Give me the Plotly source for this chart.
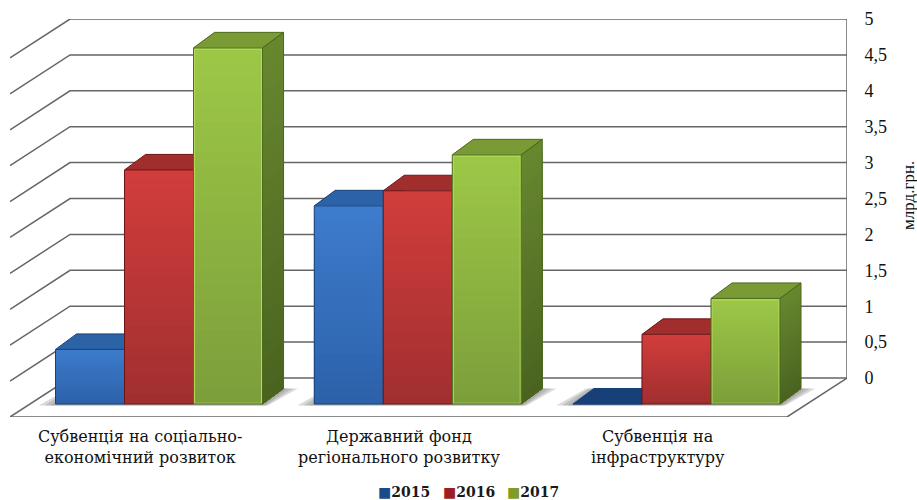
import plotly.graph_objects as go

# ---- data ----
categories = ["Субвенція на соціально-<br>економічний розвиток",
              "Державний фонд<br>регіонального розвитку",
              "Субвенція на<br>інфраструктуру"]
years = ["2015", "2016", "2017"]
values_2015 = [0.76, 2.76, 0.0]
values_2016 = [3.26, 2.97, 0.97]
values_2017 = [4.96, 3.47, 1.47]
tick_values = [0, 0.5, 1, 1.5, 2, 2.5, 3, 3.5, 4, 4.5, 5]
tick_labels = ["0", "0,5", "1", "1,5", "2", "2,5", "3", "3,5", "4", "4,5", "5"]
axis_title = "млрд.грн."

series = [values_2015, values_2016, values_2017]

# ---- layout / style constants ----
W, H = 917, 500
PL, PR, PT, PB = 10, 847, 19, 417
X_RANGE = [-0.576, 2.659]
Y_RANGE = [-0.543, 5.0]
BAR_W = 0.2667
BAR_DX, BAR_DY = 0.0812, 0.216
WALL_DX, WALL_DY = 0.232, 0.543
FLOOR = -0.362
LABEL_SHIFT = -0.073
FONT = "Liberation Serif"
LABEL_FONT = "DejaVu Serif"
LINE = "#666666"

STYLE = [
    dict(top="#3d7bcb", bot="#2d62ab", edge="#174079", roof="#2c62a6", roof0="#173f78",
         side="#24528f", sidebot="#173c6c", rim=None, swatch="#1a4c8c"),
    dict(top="#d03d3b", bot="#a22f30", edge="#6e1517", roof="#a22d2d", roof0="#a22d2d",
         side="#8a2324", sidebot="#651718", rim=None, swatch="#9c1e22"),
    dict(top="#9cc746", bot="#7d9f3b", edge="#4c6a1c", roof="#7a9a36", roof0="#7a9a36",
         side="#67872f", sidebot="#4a6420", rim="#b4dc5c", swatch="#7f9c28"),
]
N_LAYERS = 24


def mix(a, b, t):
    ca = [int(a[i:i + 2], 16) for i in (1, 3, 5)]
    cb = [int(b[i:i + 2], 16) for i in (1, 3, 5)]
    return "#" + "".join(f"{round(x + (y - x) * t):02x}" for x, y in zip(ca, cb))


fig = go.Figure()


def poly(xs, ys, color, line=None, width=0):
    fig.add_trace(go.Scatter(
        x=xs, y=ys, mode="lines", fill="toself", fillcolor=color,
        line=dict(color=line or "rgba(0,0,0,0)", width=width),
        hoverinfo="skip", showlegend=False))


# walls, gridlines and floor
gx, gy = [], []
for t in tick_values:
    gx += [X_RANGE[0], X_RANGE[0] + WALL_DX, X_RANGE[1], None]
    gy += [t - WALL_DY, t, t, None]
gx += [X_RANGE[1], X_RANGE[1], X_RANGE[1] - WALL_DX, X_RANGE[0]]
gy += [tick_values[-1], tick_values[0], tick_values[0] - WALL_DY, tick_values[0] - WALL_DY]
fig.add_trace(go.Scatter(x=gx, y=gy, mode="lines", line=dict(color=LINE, width=1.5),
                         cliponaxis=False, hoverinfo="skip", showlegend=False))


def bar_left(c, s):
    return c - 1.5 * BAR_W + s * BAR_W


# soft floor shadows
for c in range(len(categories)):
    left = bar_left(c, 0)
    right = bar_left(c, len(series))
    for grow in (1.0, 0.65, 0.3):
        poly([left - 0.065 * grow, left + BAR_DX - 0.03 * grow,
              right + BAR_DX + 0.055 * grow, right + 0.02 * grow],
             [FLOOR - 0.02, FLOOR + BAR_DY, FLOOR + BAR_DY, FLOOR - 0.02],
             "rgba(130,130,130,0.3)")

# depth faces (behind all the fronts)
for s, vals in enumerate(series):
    st = STYLE[s]
    for c, v in enumerate(vals):
        x0 = bar_left(c, s)
        x1 = x0 + BAR_W
        for i in range(N_LAYERS):
            k = 1 - i / N_LAYERS
            yt = FLOOR + v * k
            poly([x1, x1 + BAR_DX, x1 + BAR_DX, x1],
                 [FLOOR, FLOOR + BAR_DY, yt + BAR_DY, yt],
                 mix(st["side"], st["sidebot"], i / (N_LAYERS - 1)))
        yt = FLOOR + v
        poly([x0, x0 + BAR_DX, x1 + BAR_DX, x1],
             [yt, yt + BAR_DY, yt + BAR_DY, yt],
             st["roof"] if v > 0 else st["roof0"], st["edge"], 1)
        poly([x1, x1 + BAR_DX, x1 + BAR_DX, x1],
             [yt, yt + BAR_DY, FLOOR + BAR_DY, FLOOR],
             "rgba(0,0,0,0)", st["edge"], 1)

# fronts, on an overlaid pair of axes so they cover the depth faces
centers = list(range(len(categories)))
for s, vals in enumerate(series):
    st = STYLE[s]
    xpos = [c - BAR_W + s * BAR_W for c in centers]
    for i in range(N_LAYERS):
        k = 1 - i / N_LAYERS
        fig.add_trace(go.Bar(
            x=xpos, y=[v * k for v in vals], base=FLOOR, width=BAR_W,
            marker=dict(color=mix(st["top"], st["bot"], i / (N_LAYERS - 1)), line=dict(width=0)),
            xaxis="x2", yaxis="y2", hoverinfo="skip", showlegend=False, name=years[s]))
    if st["rim"]:
        fig.add_trace(go.Bar(
            x=xpos, y=[v - 0.03 for v in vals], base=FLOOR + 0.01, width=BAR_W - 0.008,
            marker=dict(color="rgba(0,0,0,0)", line=dict(color=st["rim"], width=1)),
            xaxis="x2", yaxis="y2", hoverinfo="skip", showlegend=False))
    fig.add_trace(go.Bar(
        x=xpos, y=vals, base=FLOOR, width=BAR_W,
        marker=dict(color="rgba(0,0,0,0)", line=dict(color=st["edge"], width=1)),
        xaxis="x2", yaxis="y2", hoverinfo="skip", showlegend=False))

# legend row, drawn as text
for s, year in enumerate(years):
    fig.add_annotation(
        x=(404 + s * 64.5 - PL) / (PR - PL), y=(PB - 492) / (PB - PT),
        xref="paper", yref="paper", xanchor="center", yanchor="middle", showarrow=False,
        text=f"<span style='color:{STYLE[s]['swatch']}'>■</span>{year}",
        font=dict(family=LABEL_FONT, size=14, color="#1a1a1a", weight="bold"))

fig.add_annotation(x=(908 - PL) / (PR - PL), y=(PB - 196) / (PB - PT),
                   xref="paper", yref="paper", xanchor="center", yanchor="middle",
                   showarrow=False, textangle=-90,
                   text=axis_title, font=dict(family=FONT, size=17, color="#111111"))

fig.update_layout(
    width=W, height=H, autosize=False,
    margin=dict(l=PL, r=W - PR, t=PT, b=H - PB, pad=0),
    paper_bgcolor="white", plot_bgcolor="white",
    barmode="overlay", showlegend=False,
    xaxis=dict(range=X_RANGE, tickmode="array", tickvals=[c + LABEL_SHIFT for c in centers],
               ticktext=categories, showgrid=False, zeroline=False, showline=False,
               ticks="outside", ticklen=5, tickcolor="rgba(0,0,0,0)",
               tickfont=dict(family=LABEL_FONT, size=16, color="#111111")),
    yaxis=dict(range=Y_RANGE, side="right", tickmode="array", tickvals=tick_values,
               ticktext=tick_labels, showgrid=False, zeroline=False, showline=False,
               ticks="outside", ticklen=13, tickcolor="rgba(0,0,0,0)",
               tickfont=dict(family=FONT, size=18, color="#111111")),
    xaxis2=dict(range=X_RANGE, overlaying="x", visible=False),
    yaxis2=dict(range=Y_RANGE, overlaying="y", visible=False),
)

fig.write_html("out.html", config={"displayModeBar": False},
               post_script="document.body.style.margin='0';")
